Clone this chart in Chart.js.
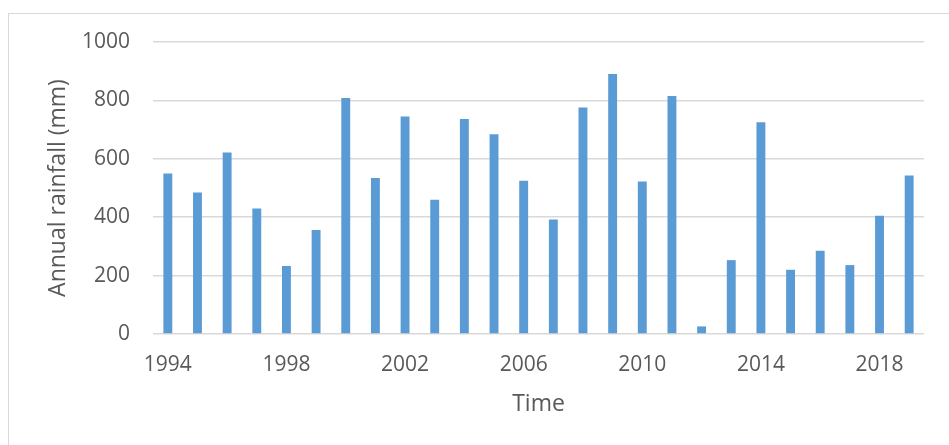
<!DOCTYPE html>
<html>
<head>
<meta charset="utf-8">
<script src="https://cdn.jsdelivr.net/npm/chart.js@4/dist/chart.umd.min.js"></script>
<style>
  html, body { margin: 0; padding: 0; background: #ffffff; }
  #wrap { position: relative; width: 949px; height: 445px; overflow: hidden; }
  #frame { position: absolute; left: 8px; top: 13px; width: 1000px; height: 500px;
           border-left: 1.5px solid #d9d9d9; border-top: 1.5px solid #d9d9d9; }
  canvas { position: absolute; left: 0; top: 0; }
</style>
</head>
<body>
<div id="wrap">
  <div id="frame"></div>
  <canvas id="chart" width="949" height="445"></canvas>
</div>
<script>
// Annual rainfall record, 1994-2019
const years = ['1994','1995','1996','1997','1998','1999','2000','2001','2002','2003',
               '2004','2005','2006','2007','2008','2009','2010','2011','2012','2013',
               '2014','2015','2016','2017','2018','2019'];
const rainfall = [550, 485, 622, 430, 233, 356, 808, 534, 745, 460,
                  736, 684, 525, 392, 776, 890, 522, 815, 26, 253,
                  725, 220, 285, 236, 405, 543];
const yMin = 0;
const yMax = 1000;
const yStep = 200;
const labelEvery = 4;

const textColor = '#595959';
const gridColor = '#d9d9d9';
const fontFamily = '"Open Sans", "Noto Sans", sans-serif';

new Chart(document.getElementById('chart'), {
  type: 'bar',
  data: {
    labels: years,
    datasets: [{
      label: 'Annual rainfall (mm)',
      data: rainfall,
      backgroundColor: '#5b9bd5',
      borderWidth: 0,
      categoryPercentage: 1.0,
      barPercentage: 0.3
    }]
  },
  options: {
    responsive: false,
    animation: false,
    devicePixelRatio: 1,
    layout: { padding: { left: 0, right: 25, top: 42, bottom: 0 } },
    plugins: {
      legend: { display: false },
      tooltip: { enabled: false }
    },
    scales: {
      x: {
        offset: true,
        grid: { display: false, drawTicks: false },
        border: { display: false },
        ticks: {
          autoSkip: false,
          maxRotation: 0,
          padding: 18,
          color: textColor,
          font: { family: fontFamily, size: 21 },
          callback: function (value, index) {
            return index % labelEvery === 0 ? this.getLabelForValue(value) : '';
          }
        },
        title: {
          display: true,
          text: 'Time',
          color: textColor,
          font: { family: fontFamily, size: 23 },
          padding: { top: 0, bottom: 27 }
        },
        afterFit: function (scale) { scale.height = 111; }
      },
      y: {
        min: yMin,
        max: yMax,
        grid: { color: gridColor, lineWidth: 1.5, drawTicks: false },
        border: { display: false },
        ticks: {
          stepSize: yStep,
          padding: 23,
          color: textColor,
          font: { family: fontFamily, size: 21 },
          callback: function (value) { return String(value); }
        },
        title: {
          display: true,
          text: 'Annual rainfall (mm)',
          color: textColor,
          font: { family: fontFamily, size: 23 },
          padding: { top: 45, bottom: 0 }
        },
        afterFit: function (scale) { scale.width = 153; }
      }
    }
  }
});
</script>
</body>
</html>
